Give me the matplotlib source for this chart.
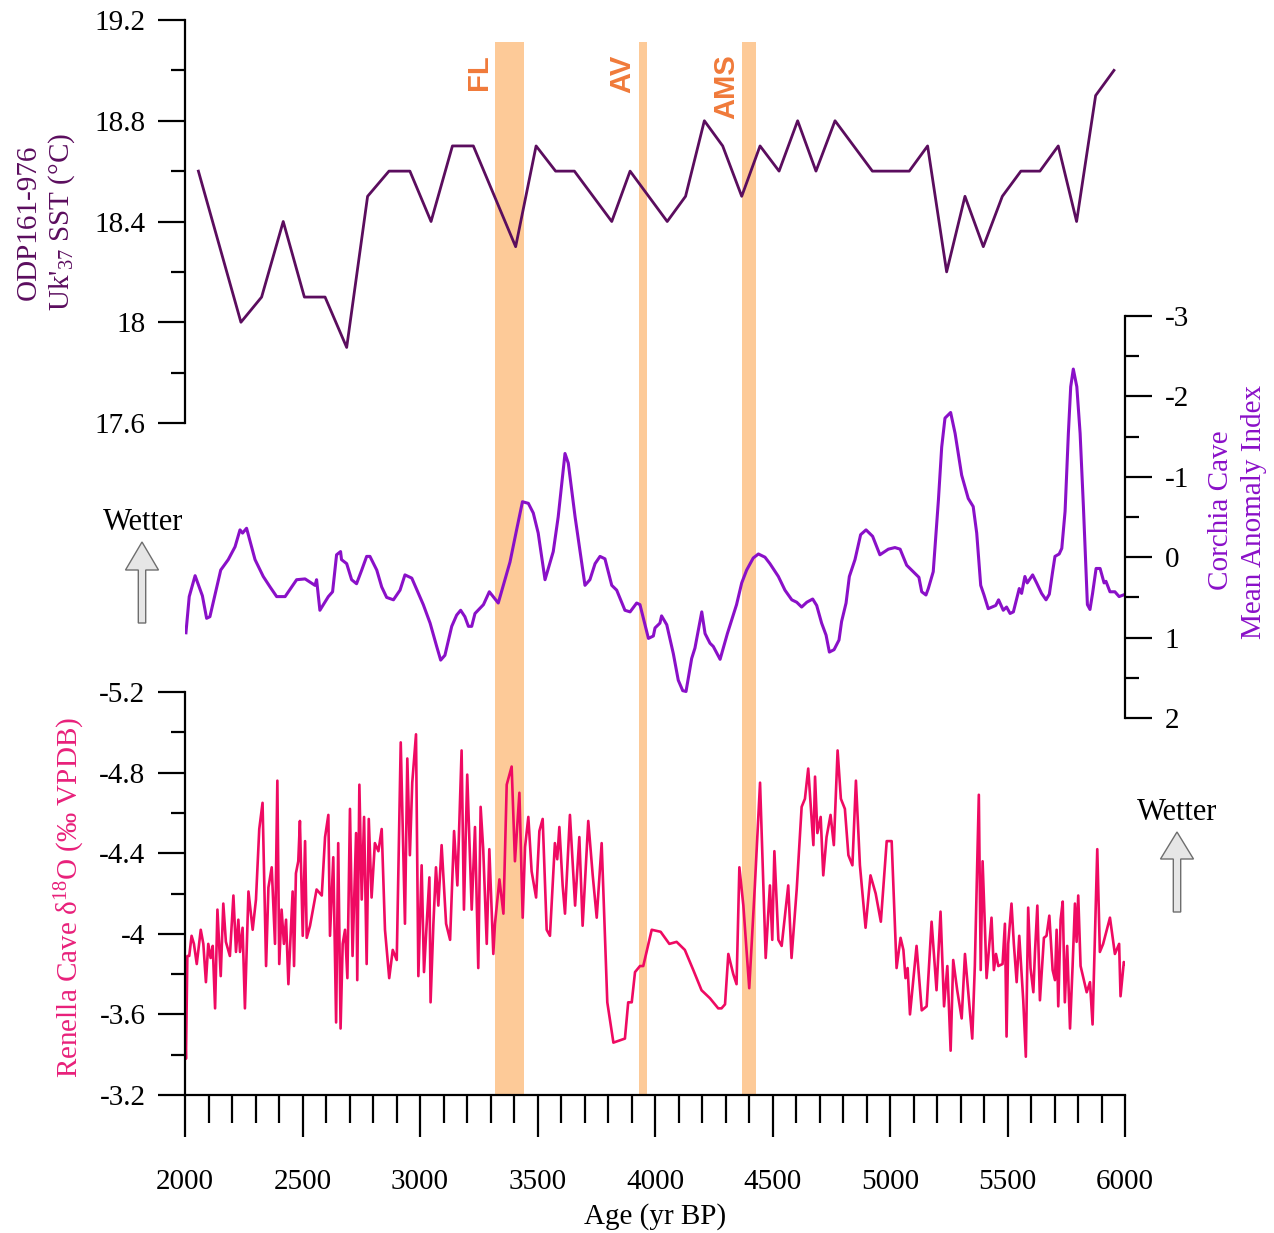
import matplotlib
matplotlib.use("Agg")
import matplotlib.pyplot as plt
from matplotlib.patches import Polygon

plt.rcParams['font.family'] = ['Liberation Serif', 'DejaVu Serif']
plt.rcParams['mathtext.fontset'] = 'custom'
plt.rcParams['mathtext.rm'] = 'Liberation Serif'
plt.rcParams['mathtext.default'] = 'regular'

# ODP161-976 alkenone SST
sst_age = [2057, 2238, 2326, 2418, 2508, 2596, 2688, 2777, 2868, 2957, 3047, 3138, 3227,
           3407, 3494, 3577, 3657, 3816, 3894, 4052, 4130, 4210, 4288, 4369, 4447, 4528,
           4607, 4685, 4766, 4925, 5082, 5160, 5241, 5319, 5397, 5478, 5557, 5638, 5716,
           5794, 5875, 5953]
sst_val = [18.6, 18.0, 18.1, 18.4, 18.1, 18.1, 17.9, 18.5, 18.6, 18.6, 18.4, 18.7, 18.7,
           18.3, 18.7, 18.6, 18.6, 18.4, 18.6, 18.4, 18.5, 18.8, 18.7, 18.5, 18.7, 18.6,
           18.8, 18.6, 18.8, 18.6, 18.6, 18.7, 18.2, 18.5, 18.3, 18.5, 18.6, 18.6, 18.7,
           18.4, 18.9, 19.0]

# Corchia Cave mean anomaly index
cor_age = [2004, 2018, 2043, 2074, 2092, 2106, 2152, 2184, 2213, 2234, 2245, 2262, 2298,
           2333, 2362, 2390, 2426, 2475, 2511, 2553, 2560, 2574, 2610, 2628, 2645, 2662,
           2666, 2688, 2709, 2730, 2752, 2773, 2787, 2816, 2837, 2858, 2887, 2915, 2936,
           2965, 3014, 3043, 3071, 3088, 3106, 3135, 3156, 3173, 3191, 3206, 3220, 3234,
           3270, 3295, 3333, 3383, 3411, 3436, 3461, 3482, 3503, 3532, 3567, 3588, 3617,
           3631, 3660, 3702, 3723, 3745, 3766, 3787, 3816, 3837, 3872, 3894, 3922, 3936,
           3972, 3993, 4000, 4021, 4028, 4050, 4078, 4099, 4118, 4132, 4156, 4170, 4199,
           4213, 4234, 4248, 4277, 4308, 4347, 4369, 4390, 4418, 4440, 4468, 4489, 4525,
           4553, 4582, 4603, 4624, 4646, 4671, 4688, 4709, 4728, 4742, 4762, 4783, 4794,
           4813, 4827, 4851, 4875, 4898, 4926, 4957, 4993, 5021, 5043, 5071, 5106, 5123,
           5135, 5153, 5163, 5184, 5206, 5220, 5234, 5258, 5277, 5305, 5333, 5354, 5369,
           5386, 5400, 5418, 5450, 5462, 5482, 5496, 5511, 5525, 5550, 5560, 5574, 5584,
           5607, 5624, 5645, 5664, 5678, 5692, 5702, 5720, 5731, 5745, 5759, 5769, 5780,
           5795, 5809, 5823, 5840, 5851, 5862, 5877, 5894, 5911, 5919, 5936, 5957, 5975,
           5993]
cor_val = [0.94, 0.49, 0.23, 0.48, 0.76, 0.74, 0.16, 0.03, -0.13, -0.34, -0.30, -0.36, 0.03,
           0.24, 0.37, 0.49, 0.49, 0.28, 0.27, 0.35, 0.28, 0.66, 0.49, 0.43, -0.03, -0.07,
           0.03, 0.08, 0.28, 0.33, 0.16, -0.01, -0.01, 0.16, 0.37, 0.50, 0.53, 0.41, 0.22,
           0.26, 0.59, 0.82, 1.11, 1.28, 1.22, 0.86, 0.72, 0.66, 0.74, 0.86, 0.86, 0.70,
           0.59, 0.43, 0.57, 0.06, -0.34, -0.69, -0.67, -0.55, -0.30, 0.28, -0.07, -0.50, -1.29,
           -1.17, -0.50, 0.35, 0.28, 0.08, -0.01, 0.02, 0.35, 0.41, 0.66, 0.68, 0.57, 0.59,
           1.01, 0.98, 0.88, 0.82, 0.73, 0.84, 1.20, 1.53, 1.66, 1.67, 1.26, 1.13, 0.68,
           0.95, 1.07, 1.11, 1.27, 0.95, 0.59, 0.32, 0.16, 0.01, -0.04, 0.00, 0.08, 0.24,
           0.41, 0.53, 0.56, 0.62, 0.56, 0.52, 0.60, 0.82, 0.97, 1.18, 1.15, 1.03, 0.80,
           0.57, 0.24, 0.03, -0.28, -0.34, -0.26, -0.03, -0.10, -0.12, -0.10, 0.10, 0.20, 0.25,
           0.43, 0.47, 0.39, 0.18, -0.71, -1.37, -1.73, -1.80, -1.54, -1.02, -0.73, -0.63, -0.30,
           0.35, 0.47, 0.64, 0.60, 0.53, 0.66, 0.62, 0.70, 0.68, 0.39, 0.45, 0.24, 0.32,
           0.22, 0.32, 0.45, 0.53, 0.46, 0.18, -0.01, -0.04, -0.11, -0.57, -1.54, -2.12, -2.34,
           -2.12, -1.54, -0.63, 0.59, 0.65, 0.45, 0.14, 0.14, 0.32, 0.30, 0.43, 0.43, 0.49,
           0.47]

# Renella Cave d18O
ren_age = [2000, 2004, 2010, 2018, 2028, 2038, 2050, 2067, 2078, 2089, 2099, 2109, 2118,
           2128, 2138, 2152, 2163, 2174, 2191, 2206, 2217, 2227, 2234, 2245, 2255, 2270,
           2288, 2302, 2316, 2330, 2345, 2355, 2369, 2383, 2393, 2401, 2411, 2421, 2430,
           2440, 2458, 2464, 2472, 2482, 2489, 2501, 2511, 2518, 2532, 2560, 2582, 2596,
           2610, 2617, 2631, 2643, 2652, 2662, 2671, 2681, 2691, 2702, 2713, 2728, 2733,
           2742, 2752, 2762, 2773, 2782, 2794, 2808, 2823, 2837, 2851, 2869, 2884, 2901,
           2918, 2936, 2946, 2957, 2967, 2983, 2993, 3007, 3017, 3028, 3040, 3045, 3057,
           3068, 3078, 3092, 3111, 3128, 3145, 3159, 3177, 3187, 3201, 3220, 3234, 3248,
           3258, 3269, 3284, 3295, 3312, 3319, 3338, 3355, 3369, 3390, 3404, 3423, 3437,
           3447, 3461, 3475, 3494, 3508, 3522, 3539, 3553, 3574, 3584, 3593, 3607, 3617,
           3638, 3660, 3678, 3692, 3716, 3735, 3752, 3773, 3797, 3823, 3872, 3886, 3901,
           3915, 3936, 3950, 3986, 4024, 4061, 4092, 4127, 4163, 4198, 4234, 4269, 4283,
           4298, 4312, 4333, 4347, 4359, 4376, 4401, 4425, 4447, 4471, 4489, 4499, 4508,
           4525, 4539, 4567, 4581, 4603, 4624, 4638, 4652, 4674, 4681, 4691, 4705, 4716,
           4730, 4747, 4761, 4777, 4791, 4808, 4823, 4840, 4855, 4872, 4896, 4917, 4939,
           4961, 4986, 5007, 5028, 5045, 5057, 5066, 5075, 5085, 5113, 5135, 5156, 5177,
           5198, 5215, 5230, 5244, 5258, 5269, 5286, 5305, 5319, 5333, 5350, 5361, 5378,
           5386, 5394, 5404, 5411, 5432, 5442, 5451, 5461, 5479, 5489, 5496, 5503, 5517,
           5527, 5539, 5550, 5567, 5578, 5588, 5598, 5610, 5617, 5627, 5638, 5655, 5666,
           5678, 5692, 5702, 5709, 5716, 5726, 5735, 5744, 5754, 5766, 5777, 5787, 5794,
           5801, 5811, 5837, 5851, 5862, 5882, 5893, 5907, 5936, 5957, 5975, 5981, 5995,
           6000]
ren_val = [-3.56, -3.38, -3.89, -3.89, -3.99, -3.95, -3.85, -4.02, -3.95, -3.76, -3.95, -3.88, -3.94,
           -3.63, -4.12, -3.79, -4.15, -3.96, -3.89, -4.19, -3.91, -4.07, -3.91, -4.03, -3.63, -4.21,
           -4.02, -4.17, -4.52, -4.65, -3.84, -4.23, -4.33, -3.95, -4.76, -3.85, -4.12, -3.95, -4.07,
           -3.75, -4.21, -3.84, -4.30, -4.36, -4.56, -3.99, -4.46, -3.98, -4.04, -4.22, -4.19, -4.48,
           -4.59, -3.99, -4.38, -3.56, -4.45, -3.53, -3.95, -4.02, -3.78, -4.62, -3.89, -4.50, -3.77,
           -4.74, -4.17, -4.58, -3.85, -4.57, -4.18, -4.45, -4.41, -4.52, -4.02, -3.78, -3.92, -3.87,
           -4.95, -4.05, -4.87, -4.39, -4.75, -4.99, -3.79, -4.34, -3.81, -4.04, -4.28, -3.66, -4.05,
           -4.33, -4.14, -4.44, -4.05, -3.97, -4.51, -4.24, -4.91, -4.12, -4.79, -4.12, -4.53, -3.83,
           -4.63, -4.42, -3.95, -4.42, -3.90, -4.05, -4.27, -4.10, -4.74, -4.83, -4.36, -4.70, -4.08,
           -4.43, -4.58, -4.31, -4.18, -4.51, -4.57, -4.02, -3.99, -4.45, -4.37, -4.53, -4.24, -4.10,
           -4.59, -4.14, -4.48, -4.04, -4.56, -4.29, -4.08, -4.45, -3.66, -3.46, -3.48, -3.66, -3.66,
           -3.81, -3.84, -3.84, -4.02, -4.01, -3.95, -3.96, -3.92, -3.82, -3.72, -3.68, -3.63, -3.63,
           -3.65, -3.90, -3.80, -3.75, -4.33, -4.14, -3.73, -4.24, -4.75, -3.88, -4.24, -3.97, -4.41,
           -3.97, -3.94, -4.24, -3.88, -4.22, -4.63, -4.67, -4.82, -4.44, -4.78, -4.50, -4.58, -4.29,
           -4.48, -4.59, -4.44, -4.91, -4.67, -4.62, -4.39, -4.34, -4.76, -4.34, -4.03, -4.29, -4.20,
           -4.06, -4.46, -4.46, -3.83, -3.98, -3.92, -3.78, -3.83, -3.60, -3.94, -3.62, -3.64, -4.06,
           -3.72, -4.11, -3.64, -3.84, -3.42, -3.87, -3.72, -3.58, -3.90, -3.71, -3.48, -3.84, -4.69,
           -3.82, -4.36, -4.03, -3.78, -4.08, -3.82, -3.90, -3.84, -3.85, -4.05, -3.49, -3.95, -4.15,
           -3.95, -3.76, -3.99, -3.67, -3.39, -4.13, -3.83, -3.71, -3.91, -4.14, -3.67, -3.98, -3.99,
           -4.09, -3.82, -3.77, -4.02, -3.64, -4.07, -4.16, -3.66, -3.94, -3.53, -3.84, -4.15, -3.96,
           -4.19, -3.84, -3.71, -3.76, -3.55, -4.42, -3.91, -3.95, -4.08, -3.90, -3.95, -3.69, -3.86,
           -3.85]

# events (start, end) and labels
band_start = [3320, 3930, 4372]
band_end = [3442, 3966, 4428]
band_names = ['FL', 'AV', 'AMS']

sst_color = '#5b0d5e'
cor_color = '#8a10c8'
ren_color = '#ef0a62'
band_color = '#fdca98'
event_color = '#f07a3a'

W, H = 1274, 1233
fig = plt.figure(figsize=(W / 100, H / 100), dpi=100)


def rect(x0, y0, x1, y1):
    return [x0 / W, 1 - y1 / H, (x1 - x0) / W, (y1 - y0) / H]


# background axes for the event bands
axb = fig.add_axes(rect(185, 42, 1125, 1095))
axb.set_xlim(2000, 6000)
axb.set_ylim(0, 1)
axb.axis('off')
for s, e, name in zip(band_start, band_end, band_names):
    axb.axvspan(s, e, color=band_color, lw=0)
    axb.text(s - 8, 0.988, name, rotation=90, ha='right', va='top',
             fontsize=21, fontweight='bold', family='Liberation Sans', color=event_color)

ax1 = fig.add_axes(rect(185, 20, 1125, 423))
ax2 = fig.add_axes(rect(185, 316, 1125, 718))
ax3 = fig.add_axes(rect(185, 692, 1125, 1095))

for ax in (ax1, ax2, ax3):
    ax.set_facecolor('none')
    ax.set_xlim(2000, 6000)
    for sp in ax.spines.values():
        sp.set_visible(False)
        sp.set_linewidth(1.6)
    ax.tick_params(which='both', width=1.6, labelsize=21)
    ax.tick_params(which='major', length=19.5)
    ax.tick_params(which='minor', length=10)

# top: SST
ax1.plot(sst_age, sst_val, color=sst_color, lw=2.0)
ax1.set_ylim(17.6, 19.2)
ax1.spines['left'].set_visible(True)
ax1.set_yticks([17.6, 18.0, 18.4, 18.8, 19.2])
ax1.set_yticklabels(['17.6', '18', '18.4', '18.8', '19.2'])
ax1.set_yticks([17.8, 18.2, 18.6, 19.0], minor=True)
ax1.tick_params(axis='y', which='both', direction='out', pad=9)
ax1.set_xticks([])

# middle: Corchia
ax2.plot(cor_age, cor_val, color=cor_color, lw=2.2)
ax2.set_ylim(2, -3)
ax2.spines['right'].set_visible(True)
ax2.yaxis.tick_right()
ax2.set_yticks([-3, -2, -1, 0, 1, 2])
ax2.set_yticklabels(['-3', '-2', '-1', '0', '1', '2'])
ax2.set_yticks([-2.5, -1.5, -0.5, 0.5, 1.5], minor=True)
ax2.tick_params(axis='y', which='both', direction='out', pad=9)
ax2.set_xticks([])

# bottom: Renella
ax3.plot(ren_age, ren_val, color=ren_color, lw=1.9)
ax3.set_ylim(-3.2, -5.2)
ax3.spines['left'].set_visible(True)
ax3.spines['bottom'].set_visible(True)
ax3.set_yticks([-5.2, -4.8, -4.4, -4.0, -3.6, -3.2])
ax3.set_yticklabels(['-5.2', '-4.8', '-4.4', '-4', '-3.6', '-3.2'])
ax3.set_yticks([-5.0, -4.6, -4.2, -3.8, -3.4], minor=True)
ax3.tick_params(axis='y', which='both', direction='out', pad=9)
ax3.set_xticks(range(2000, 6001, 500))
ax3.set_xticks(range(2000, 6001, 100), minor=True)
ax3.tick_params(axis='x', which='major', length=30, pad=23)
ax3.tick_params(axis='x', which='minor', length=20)
ax3.set_xlabel('Age (yr BP)', fontsize=21, labelpad=6)

# axis titles
fig.text(29 / W, 1 - 222 / H, 'ODP161-976', rotation=90, ha='center', va='center',
         fontsize=21, color=sst_color)
fig.text(62 / W, 1 - 222 / H, "Uk'$_{37}$ SST (°C)", rotation=90, ha='center', va='center',
         fontsize=21, color=sst_color)
fig.text(70 / W, 1 - 897 / H, 'Renella Cave δ$^{18}$O (‰ VPDB)', rotation=90, ha='center',
         va='center', fontsize=21, color='#e8207a')
fig.text(1221 / W, 1 - 510 / H, 'Corchia Cave', rotation=90, ha='center', va='center',
         fontsize=21, color=cor_color)
fig.text(1254 / W, 1 - 512 / H, 'Mean Anomaly Index', rotation=90, ha='center', va='center',
         fontsize=21, color=cor_color)


# "Wetter" arrows
def wet_arrow(cx, tip, base, bottom):
    hw, sw = 16.5, 3.7
    pts = [(cx, tip), (cx + hw, base), (cx + sw, base), (cx + sw, bottom),
           (cx - sw, bottom), (cx - sw, base), (cx - hw, base)]
    pts = [(x / W, 1 - y / H) for x, y in pts]
    fig.patches.append(Polygon(pts, closed=True, transform=fig.transFigure,
                               facecolor='#e6e6e6', edgecolor='#6e6e6e', lw=1.0))


wet_arrow(142, 542, 570, 623)
fig.text(143 / W, 1 - 523 / H, 'Wetter', ha='center', va='center', fontsize=22)
wet_arrow(1177, 832, 859, 912)
fig.text(1177 / W, 1 - 812 / H, 'Wetter', ha='center', va='center', fontsize=22)

fig.savefig('out.png', dpi=100)
